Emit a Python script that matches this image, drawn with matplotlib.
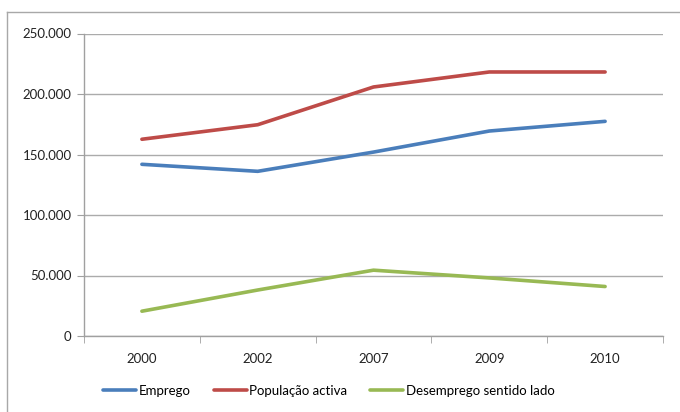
import matplotlib
matplotlib.use("Agg")
import matplotlib.pyplot as plt
from matplotlib.lines import Line2D
from matplotlib.ticker import FuncFormatter, FixedLocator

plt.rcParams['font.family'] = ['Lato', 'DejaVu Sans']

years = ["2000", "2002", "2007", "2009", "2010"]
emprego = [141900, 136100, 152000, 169400, 177400]
populacao_activa = [162600, 174600, 205800, 218200, 218200]
desemprego = [20500, 38000, 54400, 48000, 40900]

series_names = ["Emprego", "População activa", "Desemprego sentido lado"]
series_colors = ["#4a7ebb", "#be4b48", "#98b954"]

W, H = 680, 412
fig = plt.figure(figsize=(W / 100, H / 100), dpi=100)
ax = fig.add_axes([84 / W, 1 - 336 / H, (663 - 84) / W, (336 - 33.5) / H])

x = list(range(len(years)))
for vals, name, col in zip([emprego, populacao_activa, desemprego], series_names, series_colors):
    ax.plot(x, vals, color=col, lw=2.6, label=name, solid_capstyle='round', solid_joinstyle='round')

ax.set_xlim(-0.5, len(years) - 0.5)
ax.set_ylim(0, 250000)
ax.set_yticks(range(0, 250001, 50000))
ax.yaxis.set_major_formatter(FuncFormatter(lambda v, p: f"{int(v):,}".replace(",", ".")))

ax.set_xticks(x)
ax.set_xticklabels(years)
ax.xaxis.set_minor_locator(FixedLocator([i - 0.5 for i in range(len(years) + 1)]))
ax.tick_params(axis='x', which='major', length=0, pad=12, labelsize=9.5, colors='#222222')
ax.tick_params(axis='x', which='minor', length=5, color='#a0a0a0', direction='out')
ax.tick_params(axis='y', length=5, color='#a0a0a0', labelsize=9.5, pad=4)
ax.tick_params(axis='y', colors='#a0a0a0', labelcolor='#222222')

ax.grid(axis='y', color='#ababab', lw=1.0)
ax.set_axisbelow(True)
for s in ['top', 'right']:
    ax.spines[s].set_visible(False)
for s in ['left', 'bottom']:
    ax.spines[s].set_color('#a0a0a0')
    ax.spines[s].set_linewidth(1.0)

# outer chart frame
fig.add_artist(Line2D([7 / W, 7 / W], [0, 1 - 12 / H], color='#a8a8a8', lw=1.0))
fig.add_artist(Line2D([7 / W, 1], [1 - 12 / H, 1 - 12 / H], color='#a8a8a8', lw=1.0))

fig.legend(loc='center left', bbox_to_anchor=(103 / W, 1 - 391 / H), ncol=3, frameon=False,
           fontsize=9.5, handlelength=2.5, handletextpad=0.2, columnspacing=1.75,
           borderaxespad=0, borderpad=0)

fig.savefig("out.png", dpi=100)
